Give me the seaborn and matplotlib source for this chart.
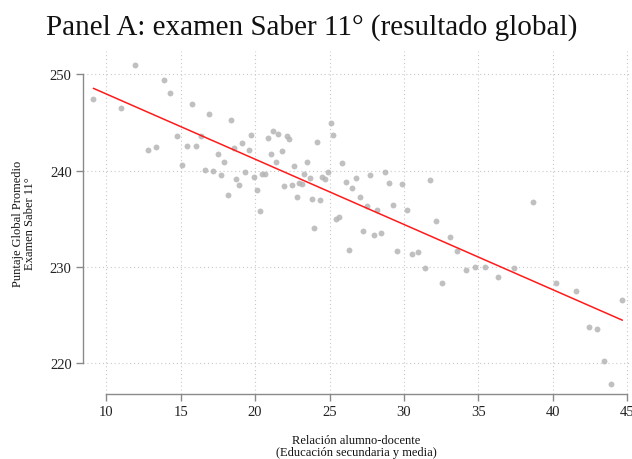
import matplotlib
matplotlib.use("Agg")
import matplotlib.pyplot as plt
import seaborn as sns
import pandas as pd

# Data
ratio = [9.13, 10.97, 11.95, 13.89, 14.3, 15.75, 16.9, 18.37, 12.78, 13.32,
         14.72, 15.44, 16.04, 16.34, 15.08, 17.48, 17.92, 18.57, 19.13, 19.56,
         19.73, 16.64, 17.2, 17.72, 18.72, 18.93, 18.17, 19.33, 19.93, 20.47,
         20.65, 20.16, 20.34, 20.87, 21.23, 21.57, 21.05, 21.41, 21.79, 22.13,
         22.31, 22.62, 23.47, 24.16, 25.08, 25.26, 25.84, 23.31, 23.67, 24.52,
         24.70, 24.90, 21.95, 22.46, 22.98, 23.18, 22.8, 23.8, 24.36, 23.99,
         25.44, 25.64, 26.09, 26.51, 26.81, 27.03, 27.5, 27.74, 28.21, 28.70,
         29.02, 29.26, 29.87, 30.2, 31.77, 32.13, 33.07, 33.58, 27.23, 27.99,
         28.44, 26.29, 29.56, 30.54, 30.97, 31.41, 32.58, 34.14, 34.81, 35.48,
         36.29, 37.43, 38.7, 40.23, 41.54, 42.44, 42.98, 43.47, 43.92, 44.68]
score = [247.4, 246.5, 250.9, 249.4, 248.0, 246.9, 245.9, 245.2, 242.1, 242.4,
         243.6, 242.5, 242.5, 243.6, 240.6, 241.7, 240.9, 242.3, 242.9, 242.1,
         243.7, 240.1, 239.9, 239.5, 239.1, 238.5, 237.5, 239.8, 239.3, 239.6,
         239.6, 238.0, 235.8, 243.4, 244.1, 243.8, 241.7, 240.9, 242.0, 243.6,
         243.3, 240.5, 240.9, 243.0, 244.9, 243.7, 240.8, 239.6, 239.2, 239.3,
         239.1, 239.8, 238.4, 238.5, 238.7, 238.6, 237.3, 237.0, 236.9, 234.0,
         234.96, 235.2, 238.8, 238.2, 239.2, 237.2, 236.3, 239.5, 235.9, 239.8,
         238.7, 236.4, 238.6, 235.9, 239.0, 234.75, 233.1, 231.6, 233.7, 233.3,
         233.5, 231.8, 231.6, 231.3, 231.5, 229.9, 228.35, 229.7, 229.95, 229.95,
         229.0, 229.9, 236.7, 228.35, 227.45, 223.75, 223.6, 220.2, 217.9, 226.6]

xticks = [10, 15, 20, 25, 30, 35, 40, 45]
yticks = [220, 230, 240, 250]

title = "Panel A: examen Saber 11° (resultado global)"
xlabel = "Relación alumno-docente\n(Educación secundaria y media)"
ylabel = "Puntaje Global Promedio\nExamen Saber 11°"

df = pd.DataFrame({"ratio": ratio, "score": score})

sns.set_theme(style="white")
plt.rcParams["font.family"] = ["Liberation Serif", "DejaVu Serif"]

fig = plt.figure(figsize=(6.32, 4.60), dpi=100)
ax = fig.add_axes([0.131, 0.141, 0.866, 0.746])

sns.regplot(data=df, x="ratio", y="score", ax=ax, ci=None,
            scatter_kws=dict(s=18, color="#b5b5b5", alpha=0.85, linewidths=0, zorder=2),
            line_kws=dict(color="#ff1a1a", linewidth=1.1, zorder=3))

ax.set_xlim(8.42, 45.2)
ax.set_ylim(216.8, 252.4)
ax.set_xticks(xticks)
ax.set_yticks(yticks)
ax.grid(True, linestyle=(0, (1, 2.5)), color="#c8c8c8", linewidth=0.8, zorder=0)
ax.set_axisbelow(True)

for s in ["top", "right"]:
    ax.spines[s].set_visible(False)
for s in ["left", "bottom"]:
    ax.spines[s].set_color("#8a8a8a")
    ax.spines[s].set_linewidth(1.0)
ax.spines["left"].set_bounds(220, 250)
ax.spines["bottom"].set_bounds(10, 45)

ax.tick_params(axis="both", which="both", direction="out", length=5, width=1.0,
               color="#8a8a8a", labelsize=10.5, labelcolor="#222222",
               left=True, bottom=True, pad=3)

ax.set_xlabel(xlabel, fontsize=9, labelpad=11, color="#111111", linespacing=1.0)
ax.set_ylabel(ylabel, fontsize=9, labelpad=10, color="#111111", linespacing=1.0)

fig.text(0.493, 0.941, title, ha="center", va="center", fontsize=21, color="#111111")

fig.savefig("out.png", dpi=100)
